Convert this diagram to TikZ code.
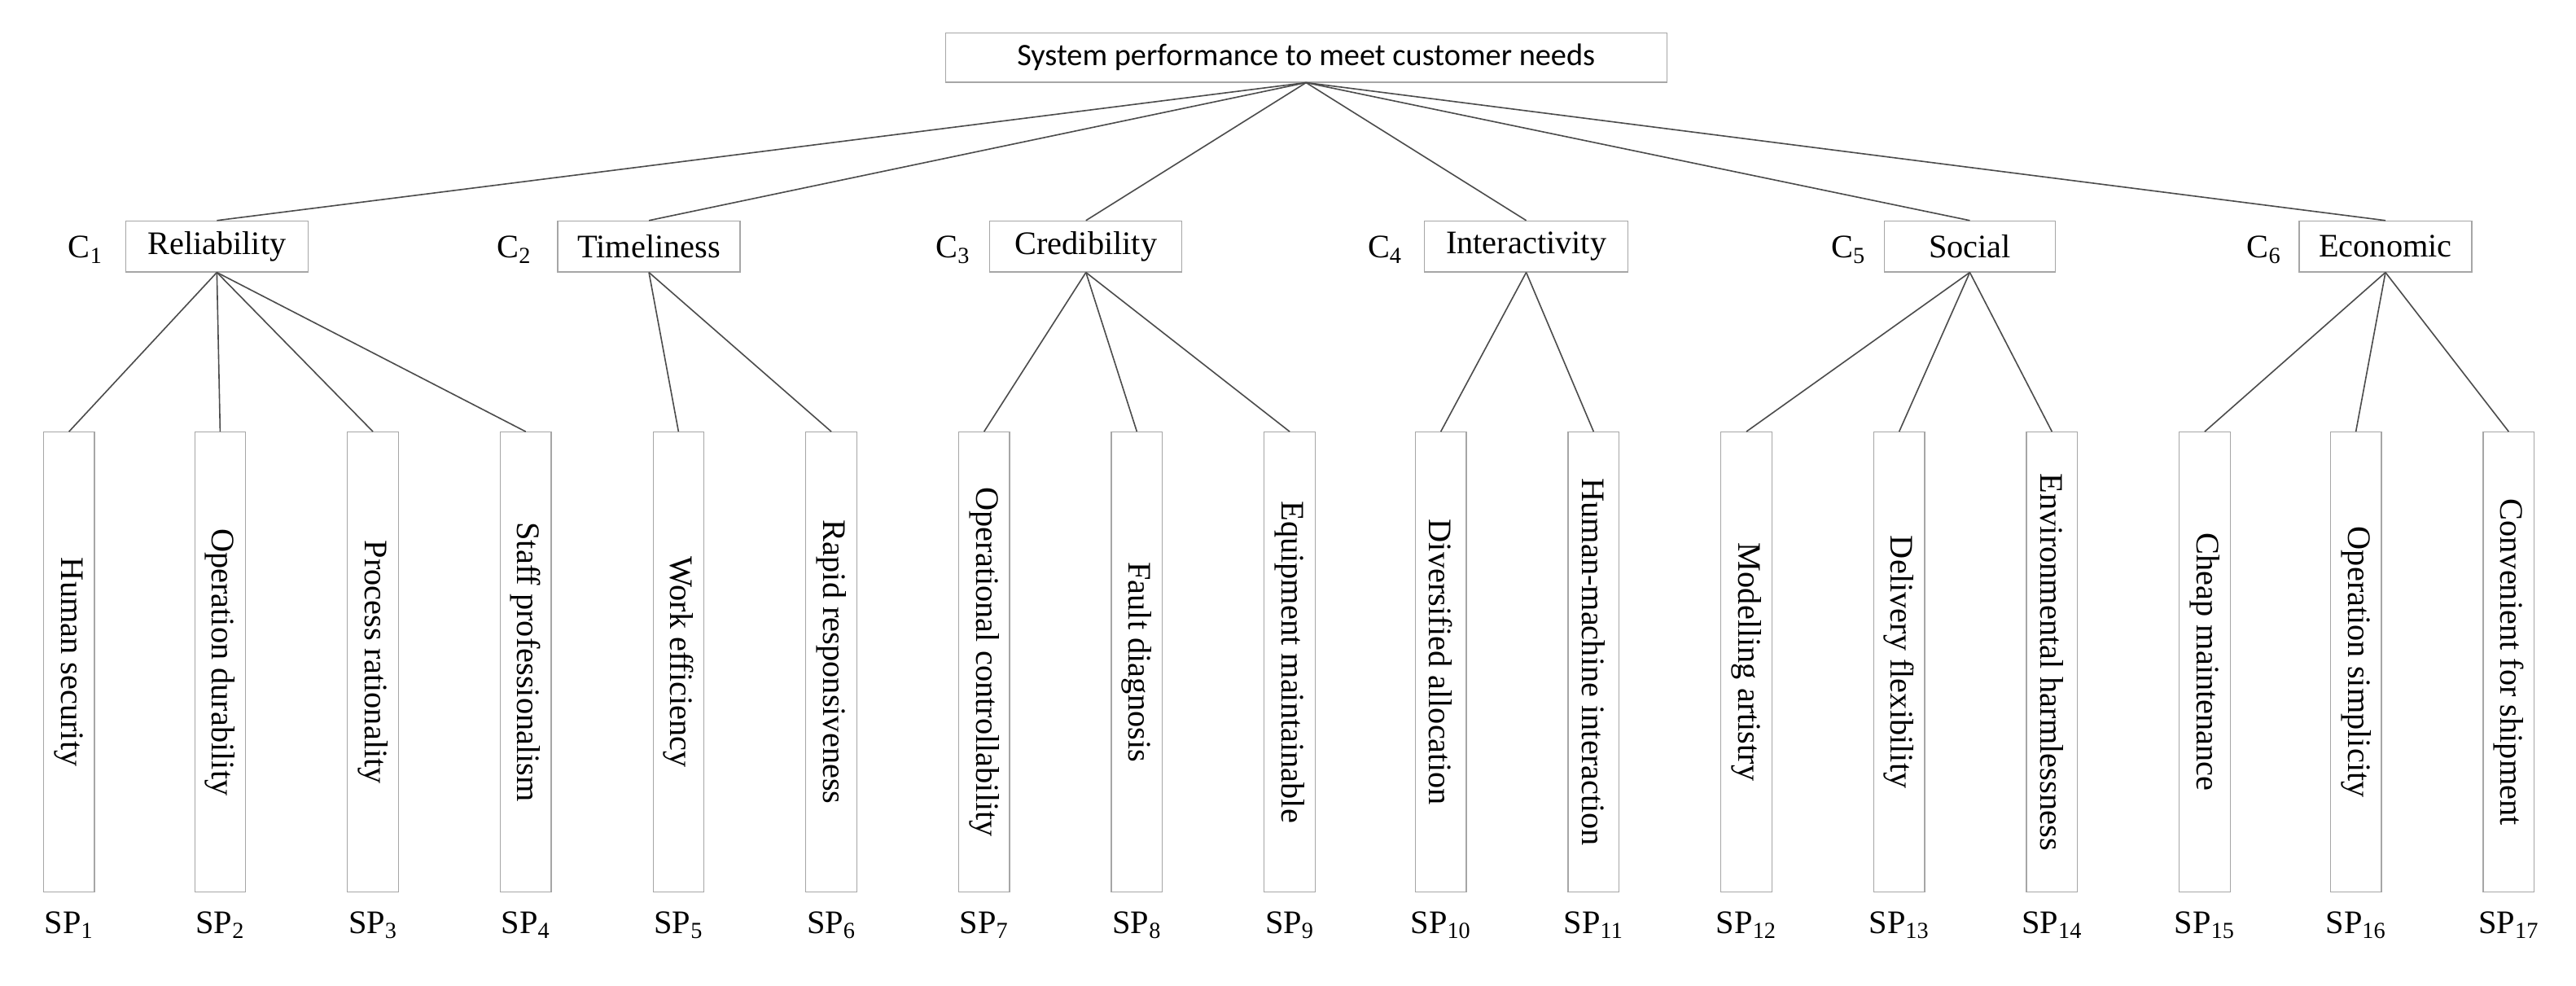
\documentclass[tikz,border=0pt]{standalone}
\usepackage{fontspec}
\setmainfont{Liberation Serif}
\newfontfamily\calfont{Carlito}
\begin{document}
\begin{tikzpicture}[x=1pt,y=-1pt,
  box/.style={draw=gray!70,line width=0.6pt,inner sep=0pt},
  con/.style={draw=black!70,line width=0.8pt},
  lab/.style={font=\fontsize{20}{22}\selectfont}]
\useasboundingbox (0,0) rectangle (1568,600);
\node[box,minimum width=439,minimum height=30,font=\calfont\fontsize{19}{21}\selectfont] (top) at (795,35) {System performance to meet customer needs};
\foreach \n/\x/\w/\t/\lx in {1/132/111/Reliability/52,2/395/111/Timeliness/313,3/661/117/Credibility/580,4/929/124/Interactivity/843,5/1199/104/Social/1125,6/1452/105/Economic/1378}{
  \node[box,minimum width=\w,minimum height=31,lab] (c\n) at (\x,150) {\t};
  \node[lab] (cl\n) at (\lx,152) {C\textsubscript{\n}};
}
\foreach \n/\x/\t in {1/42/Human security,2/134/Operation durability,3/227/Process rationality,4/320/Staff professionalism,5/413/Work efficiency,6/506/Rapid responsiveness,7/599/Operational controllability,8/692/Fault diagnosis,9/785/Equipment maintainable,10/877/Diversified allocation,11/970/Human-machine interaction,12/1063/Modelling artistry,13/1156/Delivery flexibility,14/1249/Environmental harmlessness,15/1342/Cheap maintenance,16/1434/Operation simplicity,17/1527/Convenient for shipment}{
  \node[box,minimum width=31,minimum height=280] (s\n) at (\x,403) {};
  \node[lab,rotate=-90] (st\n) at (\x,403) {\t};
  \node[lab] (sl\n) at (\x,563) {SP\textsubscript{\n}};
}
\foreach \i in {1,...,6}{\draw[con] (top.south) -- (c\i.north);}
\foreach \c/\s in {1/1,1/2,1/3,1/4,2/5,2/6,3/7,3/8,3/9,4/10,4/11,5/12,5/13,5/14,6/15,6/16,6/17}{\draw[con] (c\c.south) -- (s\s.north);}
\end{tikzpicture}
\end{document}
